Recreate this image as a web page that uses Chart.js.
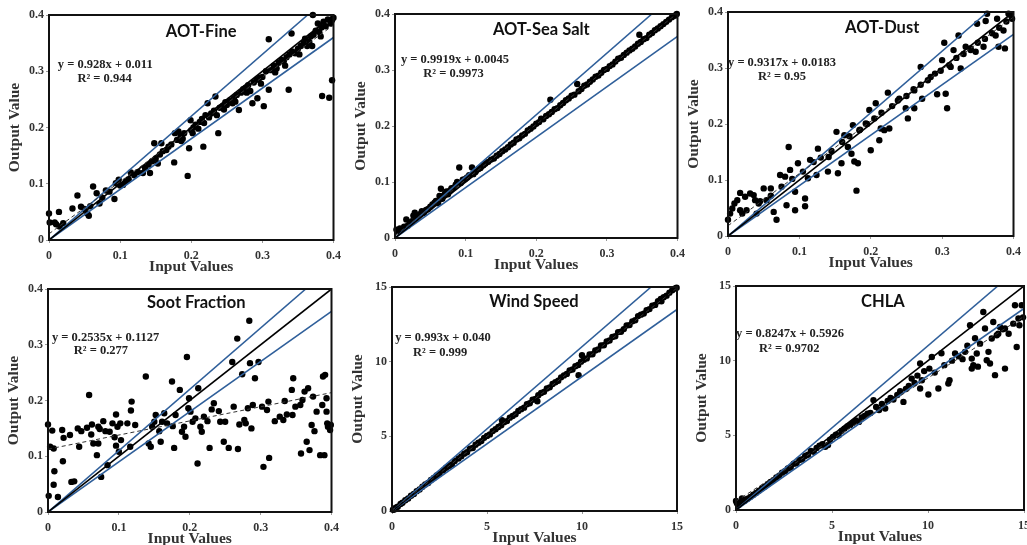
<!DOCTYPE html>
<html>
<head>
<meta charset="utf-8">
<script src="https://cdn.jsdelivr.net/npm/chart.js@4.4.0/dist/chart.umd.min.js"></script>
<style>
  html, body { margin: 0; padding: 0; background: #fff; overflow: hidden; width: 1027px; height: 545px; }
  canvas { position: absolute; }
</style>
</head>
<body>
<canvas id="p0"></canvas>
<canvas id="p1"></canvas>
<canvas id="p2"></canvas>
<canvas id="p3"></canvas>
<canvas id="p4"></canvas>
<canvas id="p5"></canvas>
<script>
// --- данные (input, output) ---
const fineData = [
  [0.000,0.047],[0.001,0.031],[0.008,0.031],[0.014,0.050],[0.015,0.024],[0.010,0.028],[0.020,0.030],[0.033,0.056],
  [0.040,0.079],[0.045,0.059],[0.050,0.055],[0.054,0.047],[0.056,0.043],[0.058,0.060],[0.062,0.095],[0.067,0.083],
  [0.071,0.065],[0.075,0.075],[0.080,0.088],[0.085,0.086],[0.092,0.073],[0.094,0.101],[0.098,0.107],[0.100,0.097],
  [0.104,0.098],[0.108,0.104],[0.112,0.108],[0.115,0.120],[0.120,0.115],[0.125,0.121],[0.132,0.119],[0.135,0.128],
  [0.140,0.134],[0.142,0.119],[0.145,0.140],[0.148,0.172],[0.150,0.145],[0.153,0.136],[0.156,0.152],[0.158,0.172],
  [0.160,0.158],[0.165,0.160],[0.168,0.166],[0.172,0.170],[0.176,0.138],[0.177,0.190],[0.180,0.178],[0.182,0.193],
  [0.185,0.185],[0.188,0.180],[0.190,0.190],[0.195,0.114],[0.197,0.163],[0.199,0.213],[0.200,0.195],[0.203,0.200],
  [0.206,0.205],[0.210,0.198],[0.212,0.210],[0.215,0.215],[0.217,0.166],[0.220,0.222],[0.223,0.243],[0.225,0.218],
  [0.228,0.225],[0.232,0.230],[0.234,0.255],[0.236,0.222],[0.238,0.190],[0.240,0.235],[0.244,0.238],[0.248,0.245],
  [0.250,0.240],[0.254,0.248],[0.258,0.243],[0.260,0.252],[0.264,0.258],[0.267,0.231],[0.270,0.262],[0.273,0.268],
  [0.276,0.270],[0.280,0.275],[0.283,0.265],[0.286,0.243],[0.288,0.280],[0.292,0.285],[0.293,0.252],[0.296,0.288],
  [0.300,0.290],[0.302,0.238],[0.305,0.300],[0.309,0.357],[0.309,0.267],[0.312,0.302],[0.316,0.310],[0.320,0.305],
  [0.323,0.315],[0.327,0.320],[0.330,0.318],[0.334,0.325],[0.337,0.267],[0.338,0.330],[0.341,0.367],[0.342,0.335],
  [0.346,0.332],[0.350,0.340],[0.354,0.345],[0.358,0.350],[0.360,0.358],[0.363,0.345],[0.366,0.352],[0.368,0.362],
  [0.371,0.400],[0.372,0.365],[0.375,0.372],[0.378,0.385],[0.380,0.370],[0.383,0.378],[0.384,0.256],[0.386,0.388],
  [0.389,0.380],[0.392,0.392],[0.394,0.253],[0.396,0.385],[0.398,0.284],[0.398,0.391],[0.400,0.395],
  [0.186,0.176],[0.202,0.190],[0.218,0.208],[0.246,0.232],[0.262,0.246],[0.278,0.262],[0.298,0.278],[0.318,0.298],
  [0.332,0.310],[0.352,0.330],[0.370,0.345],[0.382,0.362]
];

const seaData = [
  [0.002,0.015],[0.004,0.012],[0.007,0.017],[0.010,0.016],[0.013,0.020],[0.016,0.033],[0.018,0.022],[0.021,0.027],
  [0.024,0.030],[0.026,0.040],[0.028,0.045],[0.030,0.036],[0.033,0.040],[0.036,0.043],[0.038,0.048],[0.041,0.045],
  [0.044,0.050],[0.047,0.052],[0.050,0.056],[0.053,0.060],[0.056,0.063],[0.058,0.066],[0.061,0.062],[0.063,0.075],
  [0.065,0.088],[0.067,0.070],[0.069,0.076],[0.071,0.080],[0.073,0.083],[0.075,0.078],[0.078,0.085],[0.080,0.089],
  [0.083,0.090],[0.086,0.095],[0.088,0.100],[0.091,0.126],[0.093,0.098],[0.096,0.104],[0.099,0.105],[0.102,0.108],
  [0.105,0.112],[0.109,0.126],[0.111,0.114],[0.114,0.118],[0.118,0.123],[0.121,0.125],[0.125,0.130],[0.128,0.133],
  [0.132,0.136],[0.136,0.140],[0.140,0.142],[0.144,0.147],[0.148,0.150],[0.152,0.155],[0.156,0.158],[0.160,0.162],
  [0.164,0.167],[0.168,0.170],[0.172,0.176],[0.176,0.178],[0.180,0.183],[0.184,0.186],[0.188,0.192],[0.192,0.195],
  [0.196,0.199],[0.200,0.204],[0.204,0.207],[0.207,0.213],[0.210,0.212],[0.214,0.218],[0.218,0.221],[0.220,0.247],
  [0.222,0.225],[0.226,0.230],[0.230,0.232],[0.234,0.237],[0.238,0.241],[0.242,0.246],[0.246,0.249],[0.250,0.254],
  [0.254,0.256],[0.258,0.275],[0.260,0.262],[0.264,0.266],[0.268,0.272],[0.272,0.274],[0.276,0.279],[0.280,0.283],
  [0.284,0.288],[0.288,0.290],[0.292,0.295],[0.296,0.300],[0.300,0.302],[0.304,0.307],[0.308,0.310],[0.312,0.315],
  [0.316,0.320],[0.320,0.322],[0.324,0.327],[0.328,0.331],[0.332,0.335],[0.336,0.338],[0.340,0.342],[0.344,0.347],
  [0.346,0.363],[0.348,0.350],[0.352,0.355],[0.356,0.357],[0.360,0.363],[0.364,0.366],[0.368,0.371],[0.372,0.374],
  [0.376,0.378],[0.380,0.382],[0.384,0.386],[0.388,0.390],[0.392,0.394],[0.396,0.397],[0.399,0.400]
];

const dustData = [
  [0.000,0.029],[0.003,0.040],[0.006,0.049],[0.009,0.058],[0.013,0.064],[0.017,0.077],[0.024,0.070],[0.017,0.046],
  [0.026,0.046],[0.031,0.076],[0.036,0.073],[0.038,0.064],[0.040,0.040],[0.043,0.058],[0.050,0.085],[0.054,0.064],
  [0.060,0.085],[0.064,0.043],[0.068,0.029],[0.073,0.109],[0.080,0.106],[0.082,0.055],[0.085,0.159],[0.087,0.118],
  [0.094,0.079],[0.094,0.046],[0.098,0.130],[0.108,0.067],[0.108,0.053],[0.112,0.103],[0.115,0.136],[0.124,0.109],
  [0.126,0.156],[0.140,0.115],[0.141,0.141],[0.152,0.186],[0.154,0.112],[0.159,0.130],[0.163,0.180],[0.168,0.159],
  [0.173,0.147],[0.175,0.198],[0.177,0.133],[0.180,0.081],[0.182,0.130],[0.184,0.189],[0.193,0.201],[0.198,0.225],
  [0.200,0.153],[0.207,0.237],[0.212,0.171],[0.214,0.192],[0.219,0.189],[0.224,0.256],[0.226,0.192],[0.238,0.242],
  [0.249,0.228],[0.252,0.210],[0.261,0.260],[0.261,0.228],[0.270,0.302],[0.272,0.245],[0.284,0.284],[0.293,0.253],
  [0.300,0.314],[0.303,0.345],[0.305,0.254],[0.307,0.228],[0.312,0.302],[0.316,0.332],[0.323,0.358],[0.326,0.299],
  [0.333,0.338],[0.340,0.332],[0.347,0.329],[0.349,0.379],[0.358,0.338],[0.361,0.384],[0.363,0.397],[0.375,0.358],
  [0.377,0.388],[0.379,0.338],[0.386,0.367],[0.388,0.335],[0.393,0.397],[0.398,0.388],
  [0.020,0.040],[0.045,0.062],[0.060,0.072],[0.075,0.088],[0.090,0.102],[0.105,0.115],[0.120,0.132],[0.130,0.140],
  [0.145,0.152],[0.160,0.168],[0.170,0.178],[0.185,0.190],[0.195,0.200],[0.205,0.210],[0.215,0.220],[0.230,0.232],
  [0.240,0.245],[0.250,0.250],[0.260,0.262],[0.270,0.270],[0.280,0.278],[0.290,0.290],[0.298,0.295],[0.310,0.305],
  [0.320,0.318],[0.330,0.325],[0.340,0.335],[0.350,0.345],[0.360,0.352],[0.370,0.362],[0.380,0.372],[0.390,0.383],
  [0.395,0.395]
];

const sootData = [
  [0.000,0.157],[0.001,0.029],[0.003,0.117],[0.006,0.146],[0.008,0.049],[0.009,0.073],[0.008,0.114],[0.014,0.027],
  [0.020,0.147],[0.021,0.091],[0.022,0.133],[0.031,0.138],[0.033,0.054],[0.037,0.055],[0.042,0.150],[0.047,0.145],
  [0.044,0.117],[0.055,0.151],[0.058,0.210],[0.061,0.139],[0.062,0.157],[0.064,0.123],[0.069,0.102],[0.071,0.153],
  [0.071,0.123],[0.073,0.149],[0.075,0.063],[0.078,0.163],[0.081,0.145],[0.084,0.084],[0.087,0.144],[0.091,0.159],
  [0.094,0.134],[0.096,0.119],[0.096,0.175],[0.098,0.153],[0.100,0.108],[0.102,0.159],[0.103,0.129],[0.112,0.159],
  [0.116,0.117],[0.117,0.182],[0.118,0.198],[0.123,0.156],[0.138,0.243],[0.142,0.123],[0.145,0.117],[0.147,0.153],
  [0.150,0.162],[0.152,0.174],[0.157,0.145],[0.159,0.126],[0.161,0.162],[0.164,0.177],[0.168,0.159],[0.175,0.234],
  [0.176,0.154],[0.178,0.115],[0.180,0.174],[0.186,0.219],[0.189,0.144],[0.192,0.153],[0.194,0.135],[0.196,0.278],
  [0.198,0.186],[0.199,0.204],[0.201,0.180],[0.204,0.162],[0.208,0.168],[0.211,0.087],[0.212,0.222],[0.215,0.153],
  [0.217,0.144],[0.220,0.171],[0.225,0.163],[0.228,0.115],[0.231,0.184],[0.234,0.195],[0.241,0.181],[0.243,0.162],
  [0.248,0.126],[0.250,0.162],[0.255,0.115],[0.260,0.269],[0.262,0.189],[0.267,0.311],[0.268,0.113],[0.270,0.157],
  [0.274,0.247],[0.277,0.165],[0.279,0.159],[0.282,0.186],[0.284,0.343],[0.285,0.267],[0.287,0.150],[0.289,0.192],
  [0.292,0.240],[0.297,0.269],[0.302,0.189],[0.304,0.081],[0.309,0.183],[0.312,0.097],[0.311,0.198],[0.320,0.163],
  [0.327,0.171],[0.332,0.165],[0.334,0.199],[0.337,0.175],[0.344,0.219],[0.345,0.174],[0.346,0.240],[0.349,0.189],
  [0.356,0.192],[0.357,0.105],[0.359,0.201],[0.362,0.216],[0.365,0.126],[0.367,0.222],[0.369,0.111],[0.372,0.156],
  [0.374,0.207],[0.376,0.145],[0.379,0.180],[0.384,0.102],[0.387,0.192],[0.388,0.243],[0.390,0.102],[0.391,0.246],
  [0.393,0.204],[0.393,0.180],[0.394,0.159],[0.395,0.153],[0.398,0.147],[0.399,0.156]
];

const windData = [
  [0.05,0.08],[0.12,0.10],[0.20,0.22],[0.30,0.28],[0.45,0.47],[0.55,0.55],[0.70,0.72],[0.85,0.84],[1.00,1.02],
  [1.15,1.14],[1.30,1.33],[1.45,1.44],[1.60,1.62],[1.75,1.77],[1.90,1.88],[2.05,2.08],[2.20,2.21],[2.35,2.38],
  [2.50,2.49],[2.70,2.72],[2.85,2.90],[3.00,3.02],[3.15,3.12],[3.30,3.35],[3.50,3.52],[3.65,3.66],[3.80,3.84],
  [3.95,3.93],[4.10,4.18],[4.25,4.22],[4.40,4.44],[4.55,4.57],[4.70,4.68],[4.85,4.90],[5.00,5.03],[5.15,5.13],
  [5.30,5.35],[5.45,5.47],[5.60,5.62],[5.79,6.08],[5.75,5.74],[5.90,5.95],[6.05,6.02],[6.20,6.25],[6.35,6.36],
  [6.50,6.48],[6.65,6.70],[6.80,6.82],[6.95,6.92],[7.10,7.15],[7.25,7.22],[7.40,7.45],[7.55,7.50],[7.65,7.35],
  [7.70,7.75],[7.85,7.90],[8.00,7.98],[8.15,8.20],[8.30,8.28],[8.45,8.50],[8.60,8.62],[8.75,8.72],[8.90,8.95],
  [9.05,9.08],[9.20,9.18],[9.35,9.42],[9.50,9.48],[9.65,9.70],[9.82,9.09],[9.80,9.78],[9.95,10.00],[10.00,10.43],
  [10.10,10.12],[10.25,10.22],[10.40,10.48],[10.55,10.50],[10.70,10.75],[10.85,10.82],[11.00,11.08],[11.15,11.10],
  [11.30,11.35],[11.45,11.42],[11.60,11.65],[11.75,11.70],[11.90,11.98],[12.05,12.00],[12.20,12.18],[12.35,12.42],
  [12.50,12.45],[12.65,12.70],[12.80,12.77],[12.95,13.05],[13.10,13.15],[13.25,13.22],[13.40,13.45],[13.55,13.52],
  [13.70,13.75],[13.85,13.80],[14.00,14.05],[14.18,14.04],[14.15,14.20],[14.30,14.32],[14.45,14.42],[14.60,14.62],
  [14.75,14.78],[14.90,14.90],[14.98,14.95]
];

const chlaData = [
  [0.00,0.60],[0.05,0.45],[0.14,0.33],[0.20,0.50],[0.31,0.78],[0.45,0.62],[0.60,0.75],[0.75,0.88],[0.90,1.02],
  [1.05,1.15],[1.20,1.30],[1.35,1.45],[1.50,1.58],[1.65,1.72],[1.80,1.88],[1.95,2.00],[2.10,2.18],[2.25,2.30],
  [2.40,2.50],[2.55,2.60],[2.70,2.78],[2.85,2.85],[3.00,3.10],[3.15,3.12],[3.30,3.35],[3.45,3.40],[3.60,3.62],
  [3.75,3.70],[3.90,3.95],[4.05,3.90],[4.20,4.15],[4.35,4.30],[4.50,4.40],[4.65,4.23],[4.79,4.35],[4.90,4.70],
  [5.05,4.90],[5.20,5.05],[5.35,5.00],[5.50,5.30],[5.65,5.45],[5.80,5.60],[5.95,5.70],[6.10,5.85],[6.25,6.00],
  [6.40,5.90],[6.55,6.20],[6.70,6.30],[6.85,6.45],[7.00,6.50],[7.16,7.36],[7.30,6.90],[7.45,6.70],[7.60,7.10],
  [7.77,6.80],[7.90,7.30],[8.05,7.50],[8.20,7.40],[8.40,7.70],[8.55,7.95],[8.72,7.24],[8.85,8.10],[9.00,8.30],
  [9.15,8.80],[9.30,8.50],[9.45,9.00],[9.59,9.81],[9.59,8.14],[9.68,8.69],[9.80,9.30],[10.02,7.73],[10.07,9.47],
  [10.20,10.25],[10.35,9.20],[10.54,8.14],[10.70,10.50],[10.85,9.70],[11.06,8.47],[11.12,8.69],[11.25,10.00],
  [11.41,10.48],[11.60,10.30],[11.80,10.10],[11.93,10.59],[12.05,11.00],[12.19,12.37],[12.28,10.14],[12.28,9.47],
  [12.36,9.70],[12.45,11.50],[12.54,10.48],[12.60,9.60],[12.71,11.14],[12.88,13.26],[12.97,12.15],[13.06,10.03],
  [13.15,10.59],[13.23,9.81],[13.32,11.48],[13.40,12.59],[13.49,9.03],[13.58,11.70],[13.66,11.81],[13.75,12.26],
  [13.90,12.10],[14.01,9.47],[14.01,12.15],[14.20,11.80],[14.44,12.48],[14.53,13.71],[14.62,10.92],[14.71,12.82],
  [14.76,12.37],[14.88,13.71],[14.95,12.90]
];

const panelData = [fineData, seaData, dustData, sootData, windData, chlaData];
const panelTitles = ['AOT-Fine', 'AOT-Sea Salt', 'AOT-Dust', 'Soot Fraction', 'Wind Speed', 'CHLA'];
const fitSlopes = [0.928, 0.9919, 0.9317, 0.2535, 0.993, 0.8247];
const fitIntercepts = [0.011, 0.0045, 0.0183, 0.1127, 0.040, 0.5926];
const fitLabels = ['y = 0.928x + 0.011', 'y = 0.9919x + 0.0045', 'y = 0.9317x + 0.0183',
                   'y = 0.2535x + 0.1127', 'y = 0.993x + 0.040', 'y = 0.8247x + 0.5926'];
const r2Labels = ['R² = 0.944', 'R² = 0.9973', 'R² = 0.95', 'R² = 0.277', 'R² = 0.999', 'R² = 0.9702'];
const axisMax = [0.4, 0.4, 0.4, 0.4, 15, 15];
const tickStep = [0.1, 0.1, 0.1, 0.1, 5, 5];
const envelopeSlopes = [1.1, 0.9]; // синие линии ±10%

// --- раскладка: область графика [left, top, width, height] на странице ---
const plotBoxes = [
  [49, 15, 286, 225], [395, 14, 284, 224], [728, 12, 287, 224],
  [48, 289, 285, 223], [392, 287, 285, 224], [736, 286, 288, 224]
];
// положения текста в долях области графика: заголовок (центр), уравнение, R²
const textPos = [
  { tx: 0.535, ty: 0.076, ex: 0.031, ey: 0.222, rx: 0.100, ry: 0.284 },
  { tx: 0.518, ty: 0.071, ex: 0.021, ey: 0.205, rx: 0.100, ry: 0.266 },
  { tx: 0.540, ty: 0.071, ex: 0.000, ey: 0.226, rx: 0.105, ry: 0.288 },
  { tx: 0.523, ty: 0.063, ex: 0.014, ey: 0.220, rx: 0.091, ry: 0.279 },
  { tx: 0.498, ty: 0.067, ex: 0.011, ey: 0.226, rx: 0.074, ry: 0.292 },
  { tx: 0.510, ty: 0.071, ex: 0.000, ey: 0.214, rx: 0.080, ry: 0.280 }
];

const Y_AXIS_W = 48;
const X_AXIS_H = 36;
const PAD_TOP = 14;
const PAD_RIGHT = 12;
const BLUE = '#2f5f9a';
const serif = '"Liberation Serif", "Times New Roman", serif';

// Рамка, заголовок и подписи уравнения
const panelDecor = {
  id: 'panelDecor',
  afterDatasetsDraw(chart, args, opts) {
    const { ctx, chartArea: a } = chart;
    const w = a.right - a.left;
    const h = a.bottom - a.top;
    ctx.save();
    ctx.strokeStyle = '#111';
    ctx.lineWidth = 2;
    ctx.strokeRect(a.left, a.top, w, h);

    ctx.fillStyle = '#111';
    ctx.textBaseline = 'middle';
    ctx.textAlign = 'center';
    ctx.font = 'bold 16.5px Lato';
    ctx.fillText(opts.title, a.left + opts.tx * w, a.top + opts.ty * h);

    ctx.textAlign = 'left';
    ctx.fillStyle = '#222';
    ctx.font = 'bold 12.5px ' + serif;
    ctx.fillText(opts.eq, a.left + opts.ex * w, a.top + opts.ey * h);
    ctx.fillText(opts.r2, a.left + opts.rx * w, a.top + opts.ry * h);
    ctx.restore();
  }
};

function lineSet(points, color, width, dash) {
  return {
    data: points,
    showLine: true,
    pointRadius: 0,
    borderColor: color,
    borderWidth: width,
    borderDash: dash || [],
    fill: false
  };
}

function createPanel(i) {
  const canvas = document.getElementById('p' + i);
  const [pl, pt, pw, ph] = plotBoxes[i];
  canvas.width = pw + Y_AXIS_W + PAD_RIGHT;
  canvas.height = ph + PAD_TOP + X_AXIS_H;
  canvas.style.left = (pl - Y_AXIS_W) + 'px';
  canvas.style.top = (pt - PAD_TOP) + 'px';

  const max = axisMax[i];
  const a = fitSlopes[i];
  const b = fitIntercepts[i];
  const pts = panelData[i].map(([x, y]) => ({ x, y }));

  const datasets = [
    lineSet([{ x: 0, y: b }, { x: max, y: a * max + b }], '#333', 1, [4, 3]),
    lineSet([{ x: 0, y: 0 }, { x: max, y: max }], '#000', 1.6),
    lineSet([{ x: 0, y: 0 }, { x: max / envelopeSlopes[0], y: max }], BLUE, 1.6),
    lineSet([{ x: 0, y: 0 }, { x: max, y: max * envelopeSlopes[1] }], BLUE, 1.6),
    {
      data: pts,
      pointRadius: 3.2,
      pointBackgroundColor: '#000',
      pointBorderWidth: 0,
      clip: 5
    }
  ];

  const tickFont = { family: serif, size: 12, weight: 'bold' };
  const titleFont = { family: serif, size: 15.5, weight: 'bold' };
  // только короткие штрихи делений, без сетки
  const tickGrid = { display: true, drawOnChartArea: false, drawTicks: true, tickLength: 3, tickColor: '#999' };

  new Chart(canvas.getContext('2d'), {
    type: 'scatter',
    data: { datasets },
    plugins: [panelDecor],
    options: {
      responsive: false,
      animation: false,
      layout: { padding: { top: PAD_TOP, right: PAD_RIGHT, left: 0, bottom: 0 } },
      plugins: {
        legend: { display: false },
        tooltip: { enabled: false },
        panelDecor: Object.assign({ title: panelTitles[i], eq: fitLabels[i], r2: r2Labels[i] }, textPos[i])
      },
      scales: {
        x: {
          min: 0, max: max,
          grid: tickGrid,
          border: { display: false },
          ticks: { stepSize: tickStep[i], padding: 6, color: '#333', font: tickFont, maxRotation: 0 },
          title: { display: true, text: 'Input Values', color: '#333', font: titleFont, padding: { top: 0, bottom: 0 } },
          afterFit(scale) { scale.height = X_AXIS_H; }
        },
        y: {
          min: 0, max: max,
          grid: tickGrid,
          border: { display: false },
          ticks: { stepSize: tickStep[i], padding: 2, color: '#333', font: tickFont },
          title: { display: true, text: 'Output Value', color: '#333', font: titleFont, padding: { top: 5, bottom: 0 } },
          afterFit(scale) { scale.width = Y_AXIS_W; }
        }
      }
    }
  });
}

for (let i = 0; i < 6; i++) createPanel(i);
</script>
</body>
</html>
